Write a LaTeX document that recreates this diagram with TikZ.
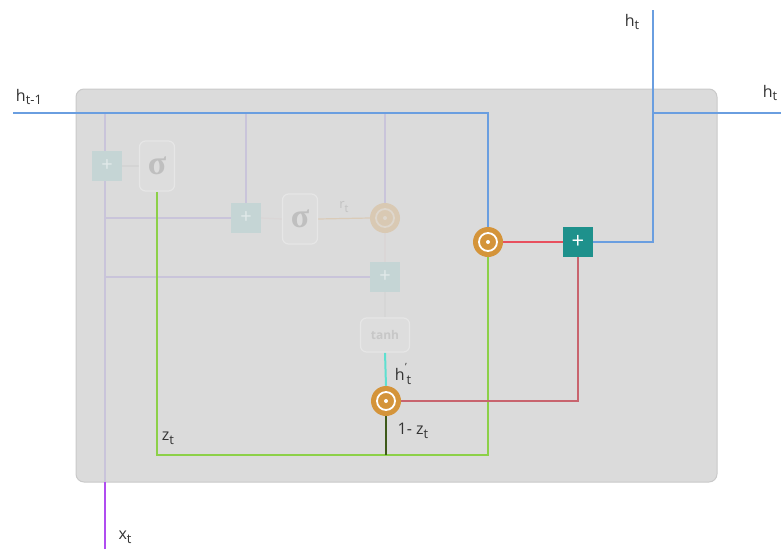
\documentclass[tikz,border=0pt]{standalone}
\usepackage{fontspec}
\setmainfont{Open Sans}
\newfontfamily\sigfont{Liberation Serif}
\usetikzlibrary{calc}
\pgfdeclarelayer{back}
\pgfdeclarelayer{lines}
\pgfsetlayers{back,lines,main}
\definecolor{boxfill}{HTML}{DBDBDB}
\definecolor{boxline}{HTML}{C9C9C9}
\definecolor{fbox}{HTML}{DDDDDD}
\definecolor{fboxline}{HTML}{E6E6E6}
\definecolor{fplus}{HTML}{C5D5D5}
\definecolor{fplussign}{HTML}{E2EAEA}
\definecolor{lav}{HTML}{C9C4DA}
\definecolor{hblue}{HTML}{6A9EE0}
\definecolor{hgreen}{HTML}{8CD048}
\definecolor{dgreen}{HTML}{3E5A1A}
\definecolor{redA}{HTML}{E8505E}
\definecolor{redB}{HTML}{C8646E}
\definecolor{orng}{HTML}{D4943A}
\definecolor{teal}{HTML}{1E918C}
\definecolor{cyanl}{HTML}{5EE0D0}
\definecolor{purp}{HTML}{B04CF0}
\definecolor{txt}{HTML}{333333}
\newcommand{\sub}[1]{\raisebox{-0.45ex}{\fontsize{13}{13}\selectfont #1}}
\tikzset{
  x=1pt, y=-1pt,
  fplusbox/.style={rectangle, fill=fplus, minimum size=30pt, inner sep=0pt,
     text=fplussign, font=\fontsize{20}{20}\selectfont},
  sigbox/.style={rectangle, rounded corners=6pt, draw=fboxline, fill=fbox, line width=1.2pt,
     minimum width=35pt, minimum height=50pt, text=black!25, font=\sigfont\bfseries\fontsize{34}{34}\selectfont},
  tanhbox/.style={rectangle, rounded corners=6pt, draw=fboxline, fill=fbox, line width=1.2pt,
     minimum width=49pt, minimum height=34pt, text=black!22, font=\bfseries\fontsize{12}{12}\selectfont},
  odot/.style={circle, fill=#1, minimum size=30pt, inner sep=0pt,
     path picture={\draw[white, line width=1.8pt] (path picture bounding box.center) circle (9pt);
                   \fill[white] (path picture bounding box.center) circle (2pt);}},
  fodot/.style={circle, fill=orng!25!boxfill, minimum size=30pt, inner sep=0pt,
     path picture={\draw[orng!12!boxfill!90!white, line width=1.8pt] (path picture bounding box.center) circle (9pt);
                   \fill[orng!12!boxfill!90!white] (path picture bounding box.center) circle (2pt);}},
  tplus/.style={rectangle, fill=teal, minimum size=30pt, inner sep=0pt, text=white,
     font=\fontsize{22}{22}\selectfont},
  lbl/.style={text=txt, inner sep=0pt, font=\fontsize{16}{16}\selectfont},
  mainline/.style={line width=2pt},
  faint/.style={line width=1.2pt}
}
\begin{document}
\begin{tikzpicture}
\useasboundingbox (0,0) rectangle (781,549);
% nodes
\node[fplusbox] (p1) at (107,166) {+};
\node[sigbox] (s1) at (157,166) {σ};
\node[fplusbox] (p2) at (246,218) {+};
\node[sigbox] (s2) at (300,219) {σ};
\node[fodot] (oc) at (385,218) {};
\node[fplusbox] (p3) at (385,277) {+};
\node[tanhbox] (th) at (385,335) {tanh};
\node[odot=orng] (o2) at (386,401) {};
\node[odot=orng] (o1) at (488,242) {};
\node[tplus] (pl) at (578,242) {+};
% coordinates
\coordinate (hin) at (13,113);
\coordinate (htop) at (653,10);
\coordinate (hj) at (653,113);
\coordinate (hout) at (781,113);
\coordinate (xb) at (105,549);
\coordinate (xbox) at (105,482);
\coordinate (xtop) at (105,113);
\coordinate (l2) at (105,218);
\coordinate (l3) at (105,277);
\coordinate (gbl) at (157,455);
\coordinate (gbr) at (488,455);
\coordinate (gm) at (386,455);
\coordinate (t2) at (246,113);
\coordinate (t3) at (385,113);
% labels
\node[lbl] (lh1) at (29,97) {h\sub{t-1}};
\node[lbl] (lh2) at (632,22) {h\sub{t}};
\node[lbl] (lh3) at (770,93) {h\sub{t}};
\node[lbl] (lx) at (125,537) {x\sub{t}};
\node[lbl] (lz) at (168,438) {z\sub{t}};
\node[lbl] (lhp) at (403,374) {h\rlap{\raisebox{1.1ex}{\fontsize{10}{10}\selectfont\kern0.5pt'}}\kern2pt\sub{t}};
\node[lbl] (l1z) at (413,431) {1- z\sub{t}};
\node[lbl, text=black!24, font=\fontsize{13}{13}\selectfont] (lr) at (344,207) {r\sub{\fontsize{11}{11}\selectfont t}};
% background box
\begin{pgfonlayer}{back}
\draw[boxline, fill=boxfill, line width=1pt, rounded corners=8pt] (76,89) rectangle (717,482);
\end{pgfonlayer}
% connectors
\begin{pgfonlayer}{lines}
\draw[faint, lav] (xbox) -- (xtop);
\draw[faint, lav] (l2) -- (p2.west);
\draw[faint, lav] (l3) -- (p3.west);
\draw[faint, lav] (t2) -- (p2.north);
\draw[faint, lav] (t3) -- (oc.north);
\draw[faint, black!17] (p1.east) -- (s1.west);
\draw[faint, red!10!black!16] (p2.east) -- (s2.west);
\draw[faint, orng!22!boxfill] (s2.east) -- (oc.west);
\draw[faint, red!8!black!16] (oc.south) -- (p3.north);
\draw[faint, black!16] (p3.south) -- (th.north);
\draw[mainline, purp] (xb) -- (xbox);
\draw[mainline, hblue] (hin) -| (o1.north);
\draw[mainline, hgreen] (s1.south) -- (gbl) -- (gbr) -- (o1.south);
\draw[mainline, cyanl] (th.south) -- (o2.north);
\draw[mainline, dgreen] (o2.south) -- (gm);
\draw[mainline, redA] (o1.east) -- (pl.west);
\draw[mainline, redB] (o2.east) -| (pl.south);
\draw[mainline, hblue] (pl.east) -| (htop);
\draw[mainline, hblue] (hj) -- (hout);
\end{pgfonlayer}
\end{tikzpicture}
\end{document}
